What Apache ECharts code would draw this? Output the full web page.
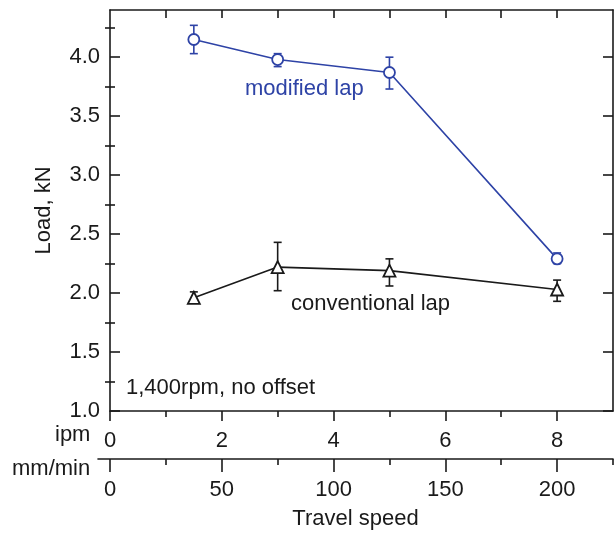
<!DOCTYPE html>
<html>
<head>
<meta charset="utf-8">
<script src="https://cdn.jsdelivr.net/npm/echarts@6/dist/echarts.min.js"></script>
<style>
  html, body { margin: 0; padding: 0; background: #fff; }
  #loadChart { width: 614px; height: 533px; }
</style>
</head>
<body>
<div id="loadChart"></div>
<script>
// travel speed of each test, ipm
var travelIpm = [1.5, 3, 5, 8];

// modified lap: mean load and error bar ends, kN
var modifiedLoad = [4.15, 3.98, 3.87, 2.29];
var modifiedLow = [4.03, 3.92, 3.73, 2.25];
var modifiedHigh = [4.27, 4.03, 4.00, 2.34];

// conventional lap
var conventionalLoad = [1.96, 2.22, 2.19, 2.03];
var conventionalLow = [1.92, 2.02, 2.06, 1.93];
var conventionalHigh = [2.01, 2.43, 2.29, 2.11];

// ticks
var loadTicks = [1.0, 1.5, 2.0, 2.5, 3.0, 3.5, 4.0];
var loadMinorTicks = [1.25, 1.75, 2.25, 2.75, 3.25, 3.75, 4.25];
var ipmTicks = [0, 2, 4, 6, 8];
var ipmMinorTicks = [1, 3, 5, 7];
var mmTicks = [0, 50, 100, 150, 200];
var mmMinorTicks = [25, 75, 125, 175, 225];

var blue = '#2e43a6';
var ink = '#1a1a1a';
var font = 'Liberation Sans';

function pairs(xs, ys) {
	return xs.map(function (x, i) { return [x, ys[i]]; });
}
function bars(xs, lo, hi) {
	return xs.map(function (x, i) { return [x, lo[i], hi[i]]; });
}
function errorBar(color) {
	return function (params, api) {
		var x = api.value(0);
		var lo = api.coord([x, api.value(1)]);
		var hi = api.coord([x, api.value(2)]);
		var w = 4;
		var style = { stroke: color, lineWidth: 1.6, fill: null };
		return {
			type: 'group',
			children: [
				{ type: 'line', shape: { x1: lo[0], y1: lo[1], x2: hi[0], y2: hi[1] }, style: style },
				{ type: 'line', shape: { x1: lo[0] - w, y1: lo[1], x2: lo[0] + w, y2: lo[1] }, style: style },
				{ type: 'line', shape: { x1: hi[0] - w, y1: hi[1], x2: hi[0] + w, y2: hi[1] }, style: style }
			]
		};
	};
}

var lineStyle = { color: ink, width: 1.6 };
var labelStyle = { color: ink, fontSize: 22, fontFamily: font };

function tickAxis(extra) {
	var base = {
		axisLine: { show: false },
		axisLabel: { show: false },
		splitLine: { show: false }
	};
	for (var k in extra) base[k] = extra[k];
	return base;
}

var loadChart = echarts.init(document.getElementById('loadChart'));
var option = {
	backgroundColor: '#fff',
	animation: false,
	textStyle: { fontFamily: font },
	grid: [
		{ left: 110, top: 10, width: 503, height: 401 },
		{ left: 98, top: 458, width: 515, height: 1 }
	],
	xAxis: [
		{	// ipm, bottom border
			type: 'value', gridIndex: 0, position: 'bottom', min: 0, max: 9,
			axisLine: { show: true, onZero: false, lineStyle: lineStyle },
			axisTick: { show: true, inside: false, length: 10, lineStyle: lineStyle, customValues: ipmTicks },
			axisLabel: { show: true, margin: 19, customValues: ipmTicks, color: ink, fontSize: 22, fontFamily: font },
			splitLine: { show: false }
		},
		tickAxis({
			type: 'value', gridIndex: 0, position: 'bottom', min: 0, max: 9,
			axisTick: { show: true, inside: false, length: 6, lineStyle: lineStyle, customValues: ipmMinorTicks }
		}),
		{	// top border
			type: 'value', gridIndex: 0, position: 'top', min: 0, max: 9,
			axisLine: { show: true, onZero: false, lineStyle: lineStyle },
			axisTick: { show: true, inside: true, length: 8, lineStyle: lineStyle, customValues: [1, 2, 3, 4, 5, 6, 7, 8] },
			axisLabel: { show: false },
			splitLine: { show: false }
		},
		{	// mm/min
			type: 'value', gridIndex: 1, position: 'bottom', min: -5.37, max: 225,
			axisLine: { show: true, onZero: false, lineStyle: lineStyle },
			axisTick: { show: true, inside: false, length: 13, lineStyle: lineStyle, customValues: mmTicks },
			axisLabel: { show: true, margin: 20, customValues: mmTicks, color: ink, fontSize: 22, fontFamily: font },
			splitLine: { show: false },
			name: 'Travel speed',
			nameLocation: 'middle',
			nameGap: 49,
			nameTextStyle: labelStyle
		},
		tickAxis({
			type: 'value', gridIndex: 1, position: 'bottom', min: -5.37, max: 225,
			axisTick: { show: true, inside: false, length: 6, lineStyle: lineStyle, customValues: mmMinorTicks }
		})
	],
	yAxis: [
		{
			type: 'value', gridIndex: 0, position: 'left', min: 1, max: 4.4,
			axisLine: { show: true, onZero: false, lineStyle: lineStyle },
			axisTick: { show: true, inside: true, length: 10, lineStyle: lineStyle, customValues: loadTicks },
			axisLabel: {
				show: true, margin: 10, customValues: loadTicks, color: ink, fontSize: 22, fontFamily: font,
				formatter: function (v) { return v.toFixed(1); }
			},
			splitLine: { show: false },
			name: 'Load, kN',
			nameLocation: 'middle',
			nameGap: 55,
			nameTextStyle: labelStyle
		},
		tickAxis({
			type: 'value', gridIndex: 0, position: 'left', min: 1, max: 4.4,
			axisTick: { show: true, inside: true, length: 5, lineStyle: lineStyle, customValues: loadMinorTicks }
		}),
		{
			type: 'value', gridIndex: 0, position: 'right', min: 1, max: 4.4,
			axisLine: { show: true, onZero: false, lineStyle: lineStyle },
			axisTick: { show: true, inside: true, length: 10, lineStyle: lineStyle, customValues: loadTicks },
			axisLabel: { show: false },
			splitLine: { show: false }
		},
		tickAxis({
			type: 'value', gridIndex: 0, position: 'right', min: 1, max: 4.4,
			axisTick: { show: true, inside: true, length: 5, lineStyle: lineStyle, customValues: loadMinorTicks }
		}),
		{ type: 'value', gridIndex: 1, show: false, min: 0, max: 1 }
	],
	graphic: [
		{ type: 'text', left: 55, top: 424, style: { text: 'ipm', fill: ink, fontSize: 22, fontFamily: font } },
		{ type: 'text', left: 12, top: 458, style: { text: 'mm/min', fill: ink, fontSize: 22, fontFamily: font } },
		{ type: 'text', left: 245, top: 78, style: { text: 'modified lap', fill: blue, fontSize: 22, fontFamily: font } },
		{ type: 'text', left: 291, top: 293, style: { text: 'conventional lap', fill: ink, fontSize: 22, fontFamily: font } },
		{ type: 'text', left: 126, top: 377, style: { text: '1,400rpm, no offset', fill: ink, fontSize: 22, fontFamily: font } }
	],
	series: [
		{
			name: 'modified lap error',
			type: 'custom',
			xAxisIndex: 0, yAxisIndex: 0,
			renderItem: errorBar(blue),
			encode: { x: 0, y: [1, 2] },
			data: bars(travelIpm, modifiedLow, modifiedHigh),
			z: 1
		},
		{
			name: 'conventional lap error',
			type: 'custom',
			xAxisIndex: 0, yAxisIndex: 0,
			renderItem: errorBar(ink),
			encode: { x: 0, y: [1, 2] },
			data: bars(travelIpm, conventionalLow, conventionalHigh),
			z: 1
		},
		{
			name: 'modified lap',
			type: 'line',
			xAxisIndex: 0, yAxisIndex: 0,
			data: pairs(travelIpm, modifiedLoad),
			symbol: 'circle',
			symbolSize: 11,
			itemStyle: { color: '#fff', borderColor: blue, borderWidth: 1.8 },
			lineStyle: { color: blue, width: 1.6 },
			z: 3
		},
		{
			name: 'conventional lap',
			type: 'line',
			xAxisIndex: 0, yAxisIndex: 0,
			data: pairs(travelIpm, conventionalLoad),
			symbol: 'triangle',
			symbolSize: 12,
			itemStyle: { color: '#fff', borderColor: ink, borderWidth: 1.8 },
			lineStyle: { color: ink, width: 1.6 },
			z: 3
		}
	]
};
loadChart.setOption(option);
window.addEventListener('resize', function () {
	loadChart.resize();
});
</script>
</body>
</html>
